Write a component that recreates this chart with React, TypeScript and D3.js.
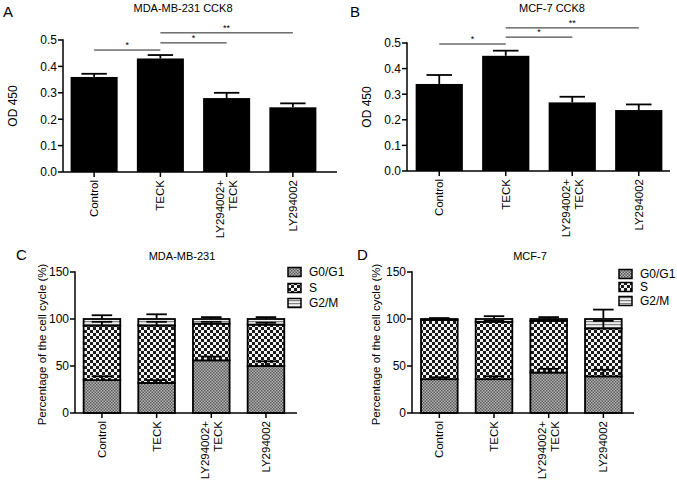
import React from "react";
import * as d3 from "d3";

const categories = ["Control", "TECK", "LY294002+\nTECK", "LY294002"];

// CCK8 OD450 values (panels A and B)
const odMda = [0.36, 0.43, 0.28, 0.245];
const odMdaErr = [0.012, 0.013, 0.02, 0.015];
const odMcf = [0.34, 0.45, 0.268, 0.238];
const odMcfErr = [0.035, 0.02, 0.022, 0.022];
const odTicks = [0, 0.1, 0.2, 0.3, 0.4, 0.5];

// significance brackets: [from, to, label]
const sigPairs: [number, number, string][] = [
  [0, 1, "*"],
  [1, 2, "*"],
  [1, 3, "**"],
];
const sigMdaLevel = [0.462, 0.489, 0.527];
const sigMcfLevel = [0.496, 0.523, 0.559];

// cell cycle percentages (panels C and D)
const phases = ["G0/G1", "S", "G2/M"];
const mdaG0 = [35, 32, 56, 50];
const mdaS = [58, 61, 39, 44];
const mdaG2 = [7, 7, 5, 6];
const mdaG0Err = [4, 3, 4, 5];
const mdaSErr = [4, 4, 2, 2];
const mdaG2Err = [4, 5, 2, 2];
const mcfG0 = [36, 36, 43, 39];
const mcfS = [63, 61, 55, 51];
const mcfG2 = [1, 3, 2, 10];
const mcfG0Err = [2, 3, 4, 7];
const mcfSErr = [1, 1, 1, 8];
const mcfG2Err = [1, 3, 2, 10];
const pctTicks = [0, 50, 100, 150];

const FONT = "'Liberation Sans', Arial, Helvetica, sans-serif";
const patternIds: Record<string, string> = { "G0/G1": "pG0", S: "pS", "G2/M": "pG2" };

type Layout = {
  axisX: number;
  axisEnd: number;
  xRange: [number, number];
  yRange: [number, number];
  barFrac: number;
};

function XLabels({ x, y0 }: { x: d3.ScalePoint<string>; y0: number }) {
  return (
    <g>
      {categories.map((c) => {
        const cx = x(c)!;
        const lines = c.split("\n");
        return (
          <g key={c}>
            <line x1={cx} x2={cx} y1={y0} y2={y0 + 5} stroke="#000" strokeWidth={1.5} />
            {lines.map((ln, j) => {
              const off = (j - (lines.length - 1) / 2) * 13;
              return (
                <text
                  key={j}
                  transform={`translate(${cx + off + 4},${y0 + 8}) rotate(-90)`}
                  textAnchor="end"
                  fontSize={11.5}
                  fontFamily={FONT}
                >
                  {ln}
                </text>
              );
            })}
          </g>
        );
      })}
    </g>
  );
}

function YAxis({ y, ticks, axisX, fmt }: { y: d3.ScaleLinear<number, number>; ticks: number[]; axisX: number; fmt: (v: number) => string }) {
  const [y0, y1] = y.range();
  return (
    <g>
      <line x1={axisX} x2={axisX} y1={y0} y2={y1 - 0.7} stroke="#000" strokeWidth={1.5} />
      {ticks.map((t) => (
        <g key={t}>
          <line x1={axisX - 5} x2={axisX} y1={y(t)} y2={y(t)} stroke="#000" strokeWidth={1.5} />
          <text x={axisX - 6} y={y(t) + 4.3} textAnchor="end" fontSize={12} fontFamily={FONT}>
            {fmt(t)}
          </text>
        </g>
      ))}
    </g>
  );
}

function OdPanel({ L, values, errs, levels, title, titleX, letter, letterX, labelX }: any) {
  const x = d3.scalePoint<string>().domain(categories).range(L.xRange).padding(0.5);
  const y = d3.scaleLinear().domain([0, 0.5]).range(L.yRange);
  const bw = x.step() * L.barFrac;
  const cap = bw * 0.27;
  const y0 = y(0);
  return (
    <g>
      <text x={letterX} y={17} fontSize={15} fontFamily={FONT}>{letter}</text>
      <text x={titleX} y={12} textAnchor="middle" fontSize={11} fontFamily={FONT}>{title}</text>
      <text transform={`translate(${labelX},${(L.yRange[0] + L.yRange[1]) / 2}) rotate(-90)`} textAnchor="middle" fontSize={12} fontFamily={FONT}>
        OD 450
      </text>
      {categories.map((c, i) => {
        const cx = x(c)!;
        const top = y(values[i]);
        const eTop = y(values[i] + errs[i]);
        return (
          <g key={c}>
            <rect x={cx - bw / 2} y={top} width={bw} height={y0 - top} fill="#000" />
            <line x1={cx} x2={cx} y1={top} y2={eTop} stroke="#000" strokeWidth={1.8} />
            <line x1={cx - cap} x2={cx + cap} y1={eTop} y2={eTop} stroke="#000" strokeWidth={1.8} />
          </g>
        );
      })}
      {sigPairs.map(([a, b, lab], k) => {
        const ly = y(levels[k]);
        const xa = x(categories[a])!;
        const xb = x(categories[b])!;
        return (
          <g key={k}>
            <line x1={xa} x2={xb} y1={ly} y2={ly} stroke="#222" strokeWidth={1} />
            <text x={(xa + xb) / 2} y={ly - 2} textAnchor="middle" fontSize={9} fontFamily={FONT}>{lab}</text>
          </g>
        );
      })}
      <line x1={L.axisX} x2={L.axisEnd} y1={y0} y2={y0} stroke="#000" strokeWidth={1.5} />
      <YAxis y={y} ticks={odTicks} axisX={L.axisX} fmt={d3.format(".1f")} />
      <XLabels x={x} y0={y0} />
    </g>
  );
}

function CyclePanel({ L, g0, s, g2, errs, title, titleX, letter, letterX, labelX, legendX, legendY }: any) {
  const x = d3.scalePoint<string>().domain(categories).range(L.xRange).padding(0.5);
  const y = d3.scaleLinear().domain([0, 150]).range(L.yRange);
  const rows = categories.map((c, i) => ({ cat: c, "G0/G1": g0[i], S: s[i], "G2/M": g2[i] }));
  const stacked = d3.stack<any>().keys(phases)(rows);
  const bw = x.step() * L.barFrac;
  const cap = bw * 0.28;
  const y0 = y(0);
  return (
    <g>
      <text x={letterX} y={260} fontSize={15} fontFamily={FONT}>{letter}</text>
      <text x={titleX} y={260} textAnchor="middle" fontSize={11} fontFamily={FONT}>{title}</text>
      <text transform={`translate(${labelX},${(L.yRange[0] + L.yRange[1]) / 2 + 2}) rotate(-90)`} textAnchor="middle" fontSize={11.5} fontFamily={FONT}>
        Percentage of the cell cycle (%)
      </text>
      {stacked.map((layer) => (
        <g key={layer.key}>
          {layer.map((d, i) => {
            const cx = x(categories[i])!;
            return (
              <rect
                key={i}
                x={cx - bw / 2}
                y={y(d[1])}
                width={bw}
                height={y(d[0]) - y(d[1])}
                fill={`url(#${patternIds[layer.key]})`}
                stroke="#000"
                strokeWidth={1.8}
              />
            );
          })}
        </g>
      ))}
      {stacked.map((layer, k) => (
        <g key={layer.key + "e"}>
          {layer.map((d, i) => {
            const cx = x(categories[i])!;
            const t = y(d[1]);
            const e = y(d[1] + errs[k][i]);
            return (
              <g key={i}>
                <line x1={cx} x2={cx} y1={t} y2={e} stroke="#000" strokeWidth={1.8} />
                <line x1={cx - cap} x2={cx + cap} y1={e} y2={e} stroke="#000" strokeWidth={1.8} />
              </g>
            );
          })}
        </g>
      ))}
      <line x1={L.axisX} x2={L.axisEnd} y1={y0} y2={y0} stroke="#000" strokeWidth={1.5} />
      <YAxis y={y} ticks={pctTicks} axisX={L.axisX} fmt={d3.format("d")} />
      <XLabels x={x} y0={y0} />
      {phases.map((p, k) => (
        <g key={p}>
          <rect x={legendX} y={legendY[k] - 4.5} width={13} height={9} fill={`url(#${patternIds[p]})`} stroke="#000" strokeWidth={1.5} />
          <text x={legendX + 21} y={legendY[k] + 4.3} fontSize={12} fontFamily={FONT}>{p}</text>
        </g>
      ))}
    </g>
  );
}

export default function App() {
  const LA: Layout = { axisX: 63, axisEnd: 337, xRange: [61, 326], yRange: [172, 40], barFrac: 0.71 };
  const LB: Layout = { axisX: 407, axisEnd: 670, xRange: [406, 672], yRange: [171, 43], barFrac: 0.71 };
  const LC: Layout = { axisX: 75, axisEnd: 297, xRange: [74.6, 293.3], yRange: [413, 272], barFrac: 0.67 };
  const LD: Layout = { axisX: 412, axisEnd: 634, xRange: [412, 630.7], yRange: [413, 272], barFrac: 0.67 };
  return (
    <svg width={677} height={484} style={{ position: "absolute", left: 0, top: 0, background: "#fff" }}>
      <defs>
        <pattern id="pG0" width={3} height={3} patternUnits="userSpaceOnUse">
          <rect width={3} height={3} fill="#b4b4b4" />
          <rect width={1.5} height={1.5} fill="#5a5a5a" />
          <rect x={1.5} y={1.5} width={1.5} height={1.5} fill="#5a5a5a" />
        </pattern>
        <pattern id="pS" width={6} height={6} patternUnits="userSpaceOnUse">
          <rect width={6} height={6} fill="#f4f4f4" />
          <rect width={3} height={3} fill="#1a1a1a" />
          <rect x={3} y={3} width={3} height={3} fill="#1a1a1a" />
        </pattern>
        <pattern id="pG2" width={4} height={3} patternUnits="userSpaceOnUse">
          <rect width={4} height={3} fill="#f0f0f0" />
          <rect width={4} height={1.2} fill="#808080" />
        </pattern>
      </defs>
      <OdPanel L={LA} values={odMda} errs={odMdaErr} levels={sigMdaLevel} title="MDA-MB-231 CCK8" titleX={183} letter="A" letterX={3} labelX={17} />
      <OdPanel L={LB} values={odMcf} errs={odMcfErr} levels={sigMcfLevel} title="MCF-7 CCK8" titleX={552} letter="B" letterX={350} labelX={371} />
      <CyclePanel L={LC} g0={mdaG0} s={mdaS} g2={mdaG2} errs={[mdaG0Err, mdaSErr, mdaG2Err]} title="MDA-MB-231" titleX={182} letter="C" letterX={16} labelX={46} legendX={288} legendY={[272, 288, 303]} />
      <CyclePanel L={LD} g0={mcfG0} s={mcfS} g2={mcfG2} errs={[mcfG0Err, mcfSErr, mcfG2Err]} title="MCF-7" titleX={530} letter="D" letterX={357} labelX={380} legendX={619} legendY={[274, 287, 301]} />
    </svg>
  );
}
